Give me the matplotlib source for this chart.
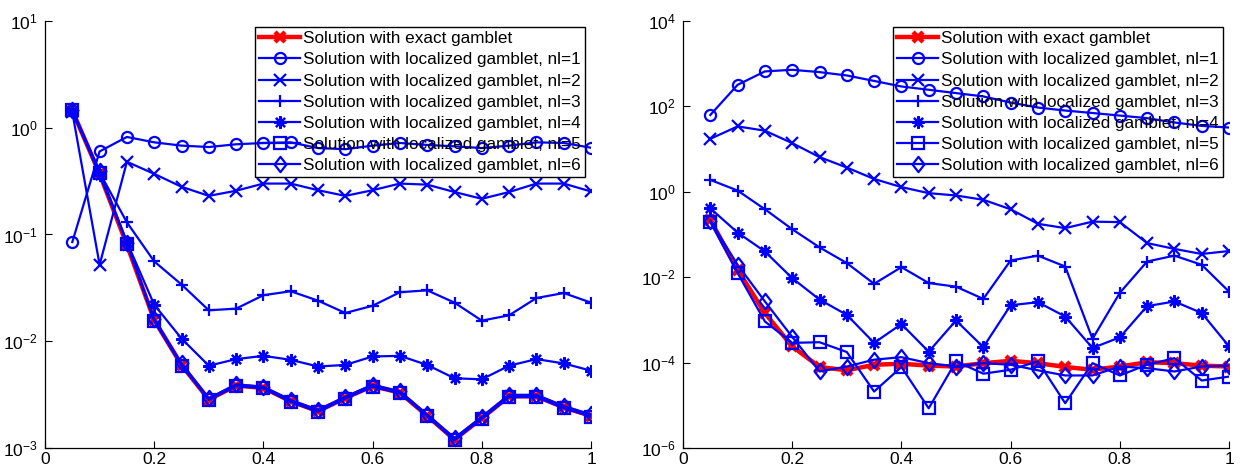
#!/usr/bin/env python
# -*- coding: utf-8 -*-

""" Error of the exact vs. localized gamblet solutions over time, two error norms. """

import numpy as np
import matplotlib as mpl
mpl.use('Agg')
import matplotlib.pyplot as plt
from matplotlib.path import Path
from matplotlib.ticker import LogLocator, FixedLocator, NullLocator

plt.rcParams['font.family'] = ['Liberation Sans', 'DejaVu Sans']
plt.rcParams['mathtext.fontset'] = 'custom'
plt.rcParams['mathtext.rm'] = 'Liberation Sans'

t = [0.05, 0.1, 0.15, 0.2, 0.25, 0.3, 0.35, 0.4, 0.45, 0.5,
     0.55, 0.6, 0.65, 0.7, 0.75, 0.8, 0.85, 0.9, 0.95, 1.0]

labels = ['Solution with exact gamblet'] + \
         ['Solution with localized gamblet, nl={0}'.format(k) for k in range(1, 7)]

# left panel
left_exact = [1.45, 0.37, 0.080, 0.0158, 0.0060, 0.00284, 0.00384, 0.00366, 0.00274, 0.00221,
              0.00295, 0.0038, 0.0033, 0.0020, 0.0012, 0.0019, 0.00305, 0.00305, 0.0024, 0.0020]
left_nl1 = [0.085, 0.60, 0.82, 0.73, 0.68, 0.66, 0.70, 0.72, 0.73, 0.645,
            0.63, 0.68, 0.72, 0.69, 0.67, 0.645, 0.68, 0.73, 0.72, 0.65]
left_nl2 = [1.40, 0.052, 0.48, 0.37, 0.28, 0.23, 0.257, 0.30, 0.30, 0.26,
            0.23, 0.26, 0.30, 0.293, 0.25, 0.216, 0.25, 0.30, 0.30, 0.253]
left_nl3 = [1.40, 0.38, 0.13, 0.056, 0.034, 0.0195, 0.0202, 0.027, 0.0294, 0.024,
            0.0184, 0.0215, 0.0288, 0.030, 0.023, 0.0156, 0.0175, 0.0254, 0.0283, 0.023]
left_nl4 = [1.45, 0.36, 0.085, 0.022, 0.0106, 0.0059, 0.0068, 0.0073, 0.0067, 0.0058,
            0.0060, 0.0072, 0.0073, 0.0060, 0.0045, 0.0044, 0.0059, 0.0068, 0.0062, 0.0053]
left_nl5 = [1.46, 0.38, 0.082, 0.0155, 0.0059, 0.00282, 0.00380, 0.00362, 0.00270, 0.00218,
            0.00290, 0.00375, 0.00326, 0.00198, 0.00118, 0.00188, 0.00300, 0.00300, 0.00236, 0.00197]
left_nl6 = [1.48, 0.39, 0.084, 0.0162, 0.0062, 0.00292, 0.00395, 0.00375, 0.00282, 0.00228,
            0.00302, 0.00392, 0.00340, 0.00206, 0.00124, 0.00196, 0.00315, 0.00315, 0.00248, 0.00206]

# right panel
right_exact = [0.22, 0.0149, 0.00144, 0.00024, 7.9e-5, 6.6e-5, 8.9e-5, 9.4e-5, 8.5e-5, 8.1e-5,
               9.7e-5, 1.1e-4, 9.7e-5, 7.9e-5, 6.8e-5, 8.1e-5, 1.02e-4, 9.7e-5, 8.5e-5, 8.1e-5]
right_nl1 = [63, 320, 660, 720, 635, 530, 395, 293, 245, 205,
             171, 123, 94, 80, 70, 61, 53, 42, 35, 32]
right_nl2 = [17.4, 34, 27, 13.8, 6.5, 3.7, 2.0, 1.29, 0.93, 0.82,
             0.65, 0.39, 0.178, 0.141, 0.20, 0.195, 0.063, 0.046, 0.035, 0.041]
right_nl3 = [1.9, 1.07, 0.39, 0.133, 0.05, 0.0214, 0.007, 0.0172, 0.0073, 0.006,
             0.0031, 0.0246, 0.032, 0.0178, 0.00036, 0.0043, 0.0233, 0.032, 0.0195, 0.0046]
right_nl4 = [0.41, 0.111, 0.04, 0.0095, 0.0030, 0.00131, 0.00029, 0.00080, 0.00018, 0.00097,
             0.00023, 0.0022, 0.0026, 0.0012, 0.00022, 0.00039, 0.0021, 0.0027, 0.00145, 0.00024]
right_nl5 = [0.20, 0.0125, 0.00092, 0.00029, 0.00030, 0.000177, 2.1e-5, 7.9e-5, 8.5e-6, 1.07e-4,
             5.5e-5, 6.8e-5, 1.07e-4, 1.12e-5, 9.7e-5, 5.0e-5, 8.9e-5, 1.27e-4, 3.8e-5, 4.7e-5]
right_nl6 = [0.21, 0.0195, 0.0027, 0.0004, 6.2e-5, 8.1e-5, 1.17e-4, 1.34e-4, 9.7e-5, 8.1e-5,
             9.7e-5, 8.9e-5, 6.6e-5, 5.0e-5, 5.0e-5, 8.1e-5, 7.4e-5, 6.2e-5, 8.1e-5, 8.5e-5]

left_ylim = (1e-3, 1e1)
right_ylim = (1e-6, 1e4)
xticks = [0, 0.2, 0.4, 0.6, 0.8, 1]
xticklabels = ['0', '0.2', '0.4', '0.6', '0.8', '1']

# diamond a bit narrower than tall
diamond = Path([(0, 1), (0.78, 0), (0, -1), (-0.78, 0), (0, 1)],
               [Path.MOVETO, Path.LINETO, Path.LINETO, Path.LINETO, Path.CLOSEPOLY])

# open markers: circle, cross, plus, 8-arm asterisk, square, diamond
markers = ['o', 'x', '+', (8, 2, 0), 's', diamond]
msizes = [8, 8, 9, 9, 8, 11]


def draw(ax, exact, nls, ylim, ystep):
    red = '#ff0000'
    blue = '#0000ff'
    ax.plot(t, exact, '-', color=red, lw=3.2, marker='x', ms=7, mew=3.2, label=labels[0])
    for series, mk, ms, lab in zip(nls, markers, msizes, labels[1:]):
        ax.plot(t, series, '-', color=blue, lw=1.6, marker=mk, ms=ms, mfc='none',
                mec=blue, mew=1.6, label=lab)
    ax.set_yscale('log')
    ax.set_ylim(ylim)
    ax.set_xlim(0, 1)
    ax.yaxis.set_major_locator(LogLocator(base=10.0 ** ystep))
    ax.yaxis.set_minor_locator(NullLocator())
    ax.xaxis.set_major_locator(FixedLocator(xticks))
    ax.set_xticklabels(xticklabels)
    ax.tick_params(axis='both', which='major', direction='in', length=5, width=0.8,
                   labelsize=12.5)
    ax.tick_params(axis='x', pad=3)
    ax.tick_params(axis='y', pad=5)
    ax.spines['right'].set_visible(False)
    ax.spines['top'].set_visible(False)
    for s in ('left', 'bottom'):
        ax.spines[s].set_linewidth(0.9)
    leg = ax.legend(loc='upper right', bbox_to_anchor=(1.0, 1.0), fontsize=12.3,
                    numpoints=1, handlelength=2.35, handletextpad=0.2, labelspacing=0.36,
                    borderpad=0.25, borderaxespad=0.35, fancybox=False,
                    facecolor='none', edgecolor='k', framealpha=1)
    leg.get_frame().set_linewidth(1.0)


fig = plt.figure(figsize=(12.46, 4.73), dpi=100)
ax1 = fig.add_axes([45 / 1246, 25 / 473, 546 / 1246, 427 / 473])
ax2 = fig.add_axes([683 / 1246, 25 / 473, 546 / 1246, 427 / 473])

draw(ax1, left_exact, [left_nl1, left_nl2, left_nl3, left_nl4, left_nl5, left_nl6], left_ylim, 1)
draw(ax2, right_exact, [right_nl1, right_nl2, right_nl3, right_nl4, right_nl5, right_nl6], right_ylim, 2)

plt.savefig('out.png', dpi=100)
